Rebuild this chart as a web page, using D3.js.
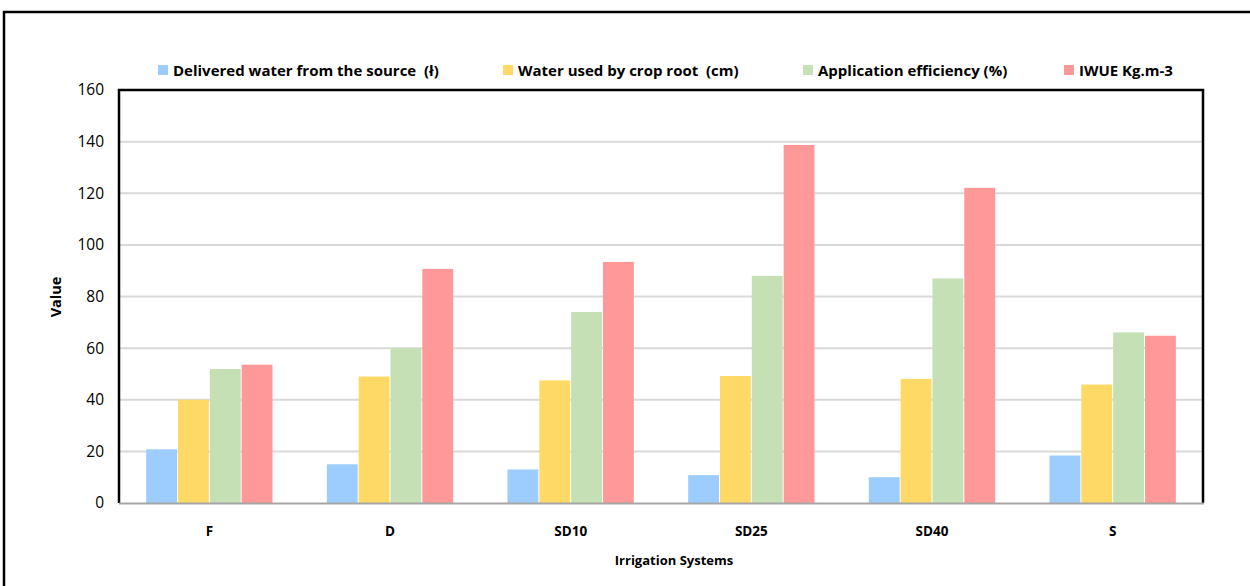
<!DOCTYPE html>
<html>
<head>
<meta charset="utf-8">
<script src="https://cdn.jsdelivr.net/npm/d3@7"></script>
<style>
  body { margin: 0; background: #fff; }
  svg { display: block; font-family: "Open Sans", "Liberation Sans", Arial, sans-serif; }
  text { white-space: pre; }
</style>
</head>
<body>
<svg width="1250" height="586"></svg>
<script>
// categories and series
const systems = ["F", "D", "SD10", "SD25", "SD40", "S"];
const delivered = [20.8, 15.0, 13.0, 10.8, 10.0, 18.4];
const waterUsed = [40.0, 49.0, 47.5, 49.2, 48.1, 45.9];
const efficiency = [51.9, 60.0, 74.0, 88.0, 87.0, 66.1];
const iwue = [53.6, 90.7, 93.4, 138.7, 122.1, 64.8];
const seriesNames = ["Delivered water from the source  (ł)", "Water used by crop root  (cm)", "Application efficiency (%)", "IWUE Kg.m-3"];
const yTicks = [0, 20, 40, 60, 80, 100, 120, 140, 160];

(function() {
    const colors = ["#9dcdff", "#ffd966", "#c5e0b4", "#ff9999"];
    const series = [delivered, waterUsed, efficiency, iwue];

    const svg = d3.select("svg");

    // outer frame of the chart box
    svg.append("rect")
        .attr("x", 4).attr("y", 12)
        .attr("width", 1300).attr("height", 620)
        .attr("fill", "none").attr("stroke", "#000").attr("stroke-width", 2.5);

    const pLeft = 119, pRight = 1203, pTop = 90, pBottom = 503;

    let x = d3.scaleBand().domain(systems).range([pLeft, pRight]).paddingInner(0.29).paddingOuter(0.145);
    let xs = d3.scaleBand().domain(d3.range(4)).range([0, x.bandwidth()]).padding(0.03);
    let y = d3.scaleLinear().domain([0, 160]).range([pBottom, pTop]);

    // gridlines
    svg.append("g")
        .selectAll("line")
        .data(yTicks.filter(d => d > 0 && d < 160))
        .join("line")
        .attr("x1", pLeft).attr("x2", pRight)
        .attr("y1", d => y(d)).attr("y2", d => y(d))
        .attr("stroke", "#d9d9d9").attr("stroke-width", 2);

    // bars
    let rows = [];
    systems.forEach((s, i) => series.forEach((arr, k) => rows.push({ s: s, k: k, v: arr[i] })));
    svg.append("g")
        .selectAll("rect")
        .data(rows)
        .join("rect")
        .attr("x", d => x(d.s) + xs(d.k))
        .attr("width", xs.bandwidth())
        .attr("y", d => y(d.v))
        .attr("height", d => y(0) - y(d.v))
        .attr("fill", d => colors[d.k]);

    // plot frame (left, top, right black; bottom grey axis)
    svg.append("path")
        .attr("d", `M${pLeft},${pBottom}V${pTop}H${pRight}V${pBottom}`)
        .attr("fill", "none").attr("stroke", "#000").attr("stroke-width", 2.5);
    svg.append("line")
        .attr("x1", pLeft).attr("x2", pRight + 1)
        .attr("y1", pBottom + 0.5).attr("y2", pBottom + 0.5)
        .attr("stroke", "#a6a6a6").attr("stroke-width", 2);

    // y axis
    let yAxis = svg.append("g")
        .attr("transform", `translate(${pLeft - 15},0)`)
        .call(d3.axisLeft(y).tickValues(yTicks).tickSize(0).tickPadding(0));
    yAxis.select(".domain").remove();
    yAxis.selectAll("text").attr("font-size", 15.5).attr("fill", "#000")
        .attr("font-family", "Open Sans, sans-serif");

    // x axis
    let xAxis = svg.append("g")
        .attr("transform", `translate(0,${pBottom + 23})`)
        .call(d3.axisBottom(x).tickSize(0).tickPadding(0));
    xAxis.select(".domain").remove();
    xAxis.selectAll("text").attr("font-size", 13.5).attr("font-weight", "bold").attr("fill", "#000")
        .attr("font-family", "Open Sans, sans-serif");

    // axis titles
    svg.append("text")
        .attr("transform", "translate(61,297) rotate(-90)")
        .attr("text-anchor", "middle")
        .attr("font-size", 14.5).attr("font-weight", "bold")
        .text("Value");
    svg.append("text")
        .attr("x", 674).attr("y", 565)
        .attr("text-anchor", "middle")
        .attr("font-size", 13).attr("font-weight", "bold")
        .text("Irrigation Systems");

    // legend
    const legendX = [158, 503, 803, 1064];
    let legend = svg.append("g").selectAll("g")
        .data(seriesNames)
        .join("g")
        .attr("transform", (d, i) => `translate(${legendX[i]},65)`);
    legend.append("rect")
        .attr("width", 10).attr("height", 10)
        .attr("fill", (d, i) => colors[i]);
    legend.append("text")
        .attr("x", 15).attr("y", 10.5)
        .attr("font-size", 15).attr("font-weight", "bold")
        .text(d => d);
})();
</script>
</body>
</html>
